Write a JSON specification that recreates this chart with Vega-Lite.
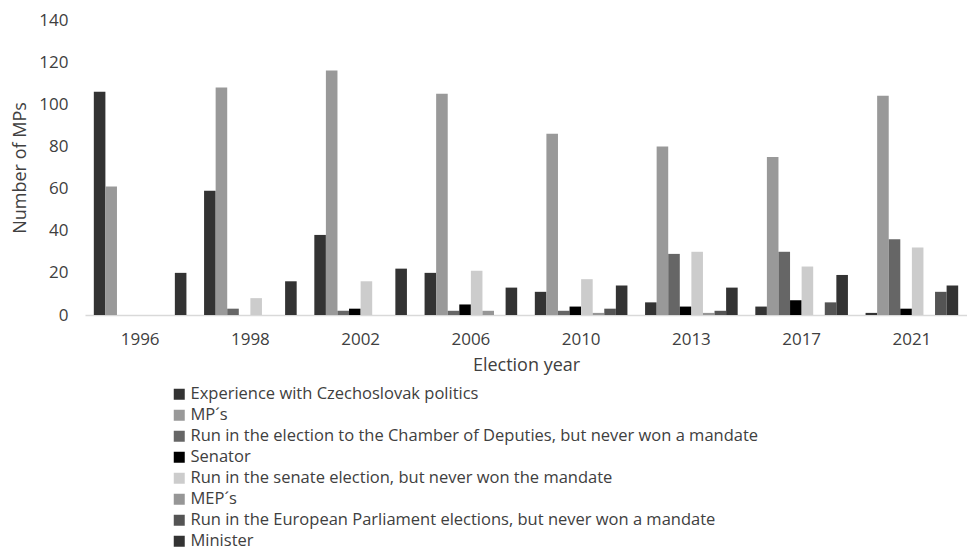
{
  "$schema": "https://vega.github.io/schema/vega-lite/v6.json",
  "autosize": "none",
  "width": 882,
  "height": 295,
  "padding": {"left": 85, "top": 20, "right": 0, "bottom": 235},
  "background": "white",
  "config": {
    "font": "Open Sans",
    "view": {"stroke": null},
    "axis": {"labelColor": "#404040", "titleColor": "#404040", "labelFontWeight": "normal", "titleFontWeight": "normal"}
  },
  "data": {
    "values": [
      {"year": "1996", "category": "Experience with Czechoslovak politics", "value": 106},
      {"year": "1996", "category": "MP´s", "value": 61},
      {"year": "1996", "category": "Run in the election to the Chamber of Deputies, but never won a mandate", "value": 0},
      {"year": "1996", "category": "Senator", "value": 0},
      {"year": "1996", "category": "Run in the senate election, but never won the mandate", "value": 0},
      {"year": "1996", "category": "MEP´s", "value": 0},
      {"year": "1996", "category": "Run in the European Parliament elections, but never won a mandate", "value": 0},
      {"year": "1996", "category": "Minister", "value": 20},

      {"year": "1998", "category": "Experience with Czechoslovak politics", "value": 59},
      {"year": "1998", "category": "MP´s", "value": 108},
      {"year": "1998", "category": "Run in the election to the Chamber of Deputies, but never won a mandate", "value": 3},
      {"year": "1998", "category": "Senator", "value": 0},
      {"year": "1998", "category": "Run in the senate election, but never won the mandate", "value": 8},
      {"year": "1998", "category": "MEP´s", "value": 0},
      {"year": "1998", "category": "Run in the European Parliament elections, but never won a mandate", "value": 0},
      {"year": "1998", "category": "Minister", "value": 16},

      {"year": "2002", "category": "Experience with Czechoslovak politics", "value": 38},
      {"year": "2002", "category": "MP´s", "value": 116},
      {"year": "2002", "category": "Run in the election to the Chamber of Deputies, but never won a mandate", "value": 2},
      {"year": "2002", "category": "Senator", "value": 3},
      {"year": "2002", "category": "Run in the senate election, but never won the mandate", "value": 16},
      {"year": "2002", "category": "MEP´s", "value": 0},
      {"year": "2002", "category": "Run in the European Parliament elections, but never won a mandate", "value": 0},
      {"year": "2002", "category": "Minister", "value": 22},

      {"year": "2006", "category": "Experience with Czechoslovak politics", "value": 20},
      {"year": "2006", "category": "MP´s", "value": 105},
      {"year": "2006", "category": "Run in the election to the Chamber of Deputies, but never won a mandate", "value": 2},
      {"year": "2006", "category": "Senator", "value": 5},
      {"year": "2006", "category": "Run in the senate election, but never won the mandate", "value": 21},
      {"year": "2006", "category": "MEP´s", "value": 2},
      {"year": "2006", "category": "Run in the European Parliament elections, but never won a mandate", "value": 0},
      {"year": "2006", "category": "Minister", "value": 13},

      {"year": "2010", "category": "Experience with Czechoslovak politics", "value": 11},
      {"year": "2010", "category": "MP´s", "value": 86},
      {"year": "2010", "category": "Run in the election to the Chamber of Deputies, but never won a mandate", "value": 2},
      {"year": "2010", "category": "Senator", "value": 4},
      {"year": "2010", "category": "Run in the senate election, but never won the mandate", "value": 17},
      {"year": "2010", "category": "MEP´s", "value": 1},
      {"year": "2010", "category": "Run in the European Parliament elections, but never won a mandate", "value": 3},
      {"year": "2010", "category": "Minister", "value": 14},

      {"year": "2013", "category": "Experience with Czechoslovak politics", "value": 6},
      {"year": "2013", "category": "MP´s", "value": 80},
      {"year": "2013", "category": "Run in the election to the Chamber of Deputies, but never won a mandate", "value": 29},
      {"year": "2013", "category": "Senator", "value": 4},
      {"year": "2013", "category": "Run in the senate election, but never won the mandate", "value": 30},
      {"year": "2013", "category": "MEP´s", "value": 1},
      {"year": "2013", "category": "Run in the European Parliament elections, but never won a mandate", "value": 2},
      {"year": "2013", "category": "Minister", "value": 13},

      {"year": "2017", "category": "Experience with Czechoslovak politics", "value": 4},
      {"year": "2017", "category": "MP´s", "value": 75},
      {"year": "2017", "category": "Run in the election to the Chamber of Deputies, but never won a mandate", "value": 30},
      {"year": "2017", "category": "Senator", "value": 7},
      {"year": "2017", "category": "Run in the senate election, but never won the mandate", "value": 23},
      {"year": "2017", "category": "MEP´s", "value": 0},
      {"year": "2017", "category": "Run in the European Parliament elections, but never won a mandate", "value": 6},
      {"year": "2017", "category": "Minister", "value": 19},

      {"year": "2021", "category": "Experience with Czechoslovak politics", "value": 1},
      {"year": "2021", "category": "MP´s", "value": 104},
      {"year": "2021", "category": "Run in the election to the Chamber of Deputies, but never won a mandate", "value": 36},
      {"year": "2021", "category": "Senator", "value": 3},
      {"year": "2021", "category": "Run in the senate election, but never won the mandate", "value": 32},
      {"year": "2021", "category": "MEP´s", "value": 0},
      {"year": "2021", "category": "Run in the European Parliament elections, but never won a mandate", "value": 11},
      {"year": "2021", "category": "Minister", "value": 14}
    ]
  },
  "mark": {"type": "bar"},
  "encoding": {
    "x": {
      "field": "year",
      "type": "nominal",
      "sort": null,
      "scale": {"paddingInner": 0.16, "paddingOuter": 0.08},
      "axis": {
        "title": "Election year",
        "titleFontSize": 18,
        "titlePadding": 9,
        "labelFontSize": 17,
        "labelAngle": 0,
        "labelPadding": 16,
        "ticks": false,
        "domainColor": "#d9d9d9",
        "domainWidth": 1.5
      }
    },
    "xOffset": {
      "field": "category",
      "type": "nominal",
      "sort": [
        "Experience with Czechoslovak politics",
        "MP´s",
        "Run in the election to the Chamber of Deputies, but never won a mandate",
        "Senator",
        "Run in the senate election, but never won the mandate",
        "MEP´s",
        "Run in the European Parliament elections, but never won a mandate",
        "Minister"
      ],
      "scale": {"paddingInner": 0, "paddingOuter": 0}
    },
    "y": {
      "field": "value",
      "type": "quantitative",
      "scale": {"domain": [0, 140], "nice": false},
      "axis": {
        "title": "Number of MPs",
        "titleFontSize": 18,
        "titlePadding": 9,
        "labelFontSize": 17,
        "labelPadding": 17,
        "values": [0, 20, 40, 60, 80, 100, 120, 140],
        "ticks": false,
        "domain": false,
        "grid": false
      }
    },
    "color": {
      "field": "category",
      "type": "nominal",
      "scale": {
        "domain": [
          "Experience with Czechoslovak politics",
          "MP´s",
          "Run in the election to the Chamber of Deputies, but never won a mandate",
          "Senator",
          "Run in the senate election, but never won the mandate",
          "MEP´s",
          "Run in the European Parliament elections, but never won a mandate",
          "Minister"
        ],
        "range": ["#333333", "#999999", "#666666", "#000000", "#cccccc", "#969696", "#545454", "#333333"]
      },
      "legend": {
        "title": null,
        "orient": "none",
        "legendX": 86,
        "legendY": 366,
        "direction": "vertical",
        "symbolType": "square",
        "symbolSize": 121,
        "symbolStrokeWidth": 0,
        "labelFontSize": 16.5,
        "labelColor": "#404040",
        "labelLimit": 800,
        "labelOffset": 3,
        "rowPadding": 4
      }
    }
  }
}
